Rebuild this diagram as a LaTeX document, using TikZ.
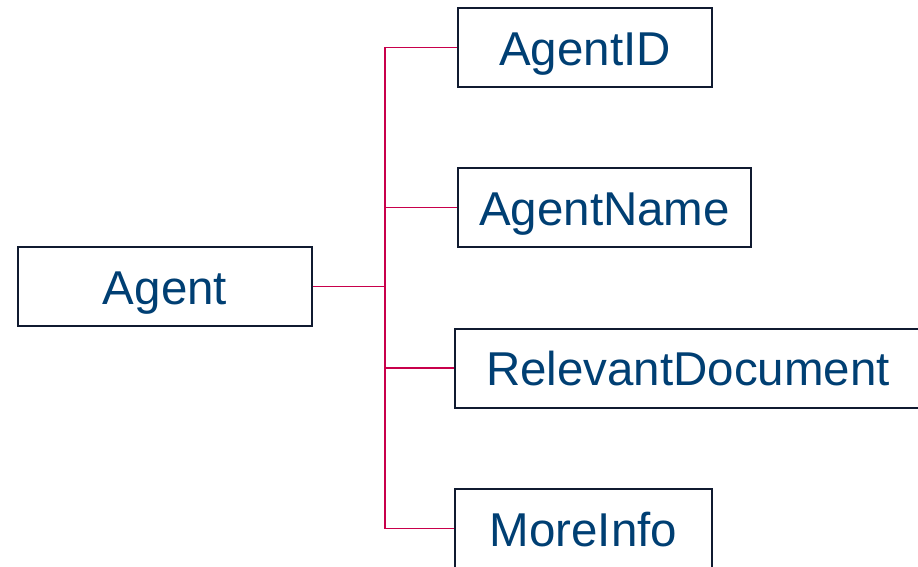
\documentclass[tikz,border=0pt]{standalone}
\usepackage{fontspec}
\setmainfont{Liberation Sans}
\definecolor{boxline}{HTML}{101A30}
\definecolor{labeltext}{HTML}{003F73}
\definecolor{linkline}{HTML}{C8004B}
\begin{document}
\begin{tikzpicture}[x=1pt,y=-1pt,
  entity/.style={draw=boxline, line width=2pt, fill=white, text=labeltext,
    minimum height=79pt, inner sep=0pt, text height=35pt, text depth=0pt,
    font=\fontsize{47.5}{56}\selectfont},
  link/.style={draw=linkline, line width=1.1pt}]
\useasboundingbox (0,0) rectangle (918,566);
% entity boxes
\node[entity, minimum width=294pt] (agent) at (165,286.5) {Agent};
\node[entity, minimum width=254pt] (id)    at (585,47.5)  {AgentID};
\node[entity, minimum width=293pt] (name)  at (604.5,207.5) {AgentName};
\node[entity, minimum width=466pt] (doc)   at (688,368)   {RelevantDocument};
\node[entity, minimum width=257pt] (info)  at (583.5,528.5) {MoreInfo};
% tree connectors
\coordinate (j) at (385,286.5);
\draw[link, line width=1.7pt] (agent.east) -- (j);
\draw[link] (j) |- (id.west);
\draw[link] (j) |- (name.west);
\draw[link] (j) |- (doc.west);
\draw[link] (j) |- (info.west);
\end{tikzpicture}
\end{document}
